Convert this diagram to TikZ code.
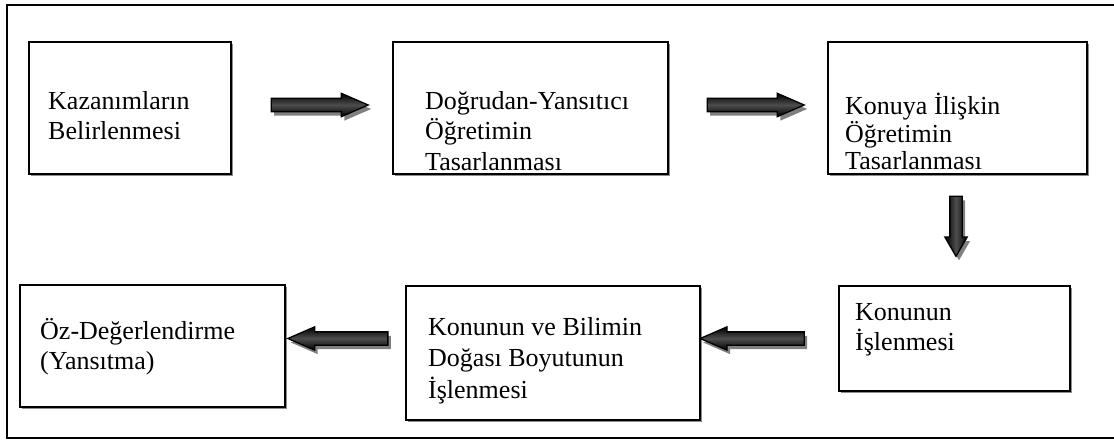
\documentclass[tikz,border=0pt]{standalone}
\usepackage{fontspec}
\setmainfont{Liberation Serif}
\usetikzlibrary{shapes.arrows,shadows}

\begin{document}
\begin{tikzpicture}[x=1pt,y=1pt,
    box/.style={draw,line width=1.3pt,fill=white,
      drop shadow={shadow xshift=1.6pt,shadow yshift=-1.6pt,fill=black!45,opacity=1}},
    lbl/.style={anchor=north west,align=left,inner sep=0pt,
      font=\fontsize{26}{30.5}\selectfont,execute at begin node={\rule{0pt}{24pt}}},
    blk/.style={single arrow,draw=black,line width=1.3pt,inner sep=6pt,
      single arrow head extend=5pt,single arrow tip angle=47,minimum height=97pt,
      top color=black,bottom color=black,middle color=black!70,
      drop shadow={shadow xshift=3pt,shadow yshift=-4pt,fill=black!50,opacity=1}}]
  \useasboundingbox (0,0) rectangle (1114,440);

  % frame
  \draw[line width=1.5pt] (1116,435) -- (7,435) -- (7,2) -- (1116,2);

  % upper row
  \node[box,minimum width=202pt,minimum height=132pt] (b1) at (130,332) {};
  \node[box,minimum width=275pt,minimum height=132pt] (b2) at (530.5,332) {};
  \node[box,minimum width=259pt,minimum height=132pt] (b3) at (957.5,332) {};
  % lower row
  \node[box,minimum width=231pt,minimum height=105pt] (b4) at (954.5,101.5) {};
  \node[box,minimum width=294pt,minimum height=134pt] (b5) at (553,87) {};
  \node[box,minimum width=265pt,minimum height=122pt] (b6) at (152.5,94) {};

  \node[lbl] (l1) at (48,349) {Kazanımların\\Belirlenmesi};
  \node[lbl] (l2) at (425,349) {Doğrudan-Yansıtıcı\\Öğretimin\\Tasarlanması};
  \node[lbl,font=\fontsize{26}{27.5}\selectfont] (l3) at (845,347) {Konuya İlişkin\\Öğretimin\\Tasarlanması};
  \node[lbl] (l4) at (855,137) {Konunun\\İşlenmesi};
  \node[lbl,font=\fontsize{26}{31.5}\selectfont] (l5) at (428,123) {Konunun ve Bilimin\\Doğası Boyutunun\\İşlenmesi};
  \node[lbl] (l6) at (40,122) {Öz-Değerlendirme\\(Yansıtma)};

  \path (b1.east) -- (b2.west) node[blk,midway,yshift=3pt] (a1) {};
  \path (b2.east) -- (b3.west) node[blk,midway,yshift=3pt] (a2) {};
  \path (b3.south) -- (b4.north) node[blk,midway,yshift=9pt,shape border rotate=270,
      inner sep=5.5pt,minimum height=60pt,single arrow tip angle=60,
      left color=black,right color=black,middle color=black!70] (a3) {};
  \path (b4.west) -- (b5.east |- b4.west) node[blk,pos=0.57,shape border rotate=180,minimum height=104pt] (a4) {};
  \path (b5.west |- b4.west) -- (b6.east |- b4.west) node[blk,midway,shape border rotate=180,minimum height=100pt] (a5) {};
\end{tikzpicture}
\end{document}
